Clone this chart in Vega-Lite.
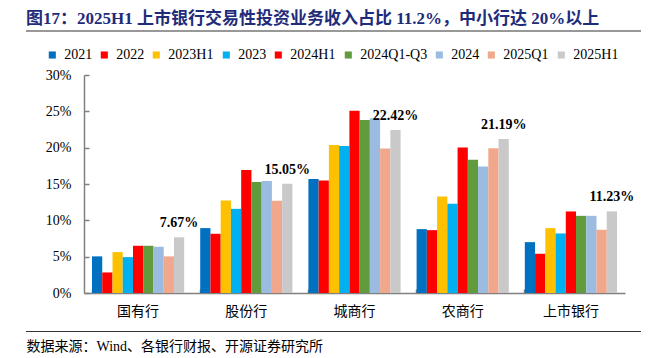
{
  "$schema": "https://vega.github.io/schema/vega-lite/v6.json",
  "autosize": {"type": "none"},
  "width": 615,
  "height": 302,
  "padding": {"left": 26, "top": 30, "right": 7, "bottom": 26},
  "background": "white",
  "config": {
    "font": "Liberation Serif",
    "view": {"stroke": null}
  },
  "title": {
    "text": "图17：2025H1 上市银行交易性投资业务收入占比 11.2%，中小行达 20%以上",
    "anchor": "start",
    "frame": "group",
    "font": "Liberation Serif, Noto Sans CJK SC",
    "fontSize": 17,
    "fontWeight": "bold",
    "color": "#1F2C7A",
    "baseline": "alphabetic",
    "offset": -11
  },
  "data": {
    "values": [
      {"bank": "国有行", "period": "2021", "value": 0.0504},
      {"bank": "国有行", "period": "2022", "value": 0.0283},
      {"bank": "国有行", "period": "2023H1", "value": 0.0563},
      {"bank": "国有行", "period": "2023", "value": 0.0494},
      {"bank": "国有行", "period": "2024H1", "value": 0.0650},
      {"bank": "国有行", "period": "2024Q1-Q3", "value": 0.0650},
      {"bank": "国有行", "period": "2024", "value": 0.0636},
      {"bank": "国有行", "period": "2025Q1", "value": 0.0504},
      {"bank": "国有行", "period": "2025H1", "value": 0.0767},
      {"bank": "股份行", "period": "2021", "value": 0.0893},
      {"bank": "股份行", "period": "2022", "value": 0.0815},
      {"bank": "股份行", "period": "2023H1", "value": 0.1273},
      {"bank": "股份行", "period": "2023", "value": 0.1158},
      {"bank": "股份行", "period": "2024H1", "value": 0.1694},
      {"bank": "股份行", "period": "2024Q1-Q3", "value": 0.1529},
      {"bank": "股份行", "period": "2024", "value": 0.1543},
      {"bank": "股份行", "period": "2025Q1", "value": 0.1268},
      {"bank": "股份行", "period": "2025H1", "value": 0.1505},
      {"bank": "城商行", "period": "2021", "value": 0.1570},
      {"bank": "城商行", "period": "2022", "value": 0.1548},
      {"bank": "城商行", "period": "2023H1", "value": 0.2038},
      {"bank": "城商行", "period": "2023", "value": 0.2024},
      {"bank": "城商行", "period": "2024H1", "value": 0.2509},
      {"bank": "城商行", "period": "2024Q1-Q3", "value": 0.2381},
      {"bank": "城商行", "period": "2024", "value": 0.2404},
      {"bank": "城商行", "period": "2025Q1", "value": 0.1987},
      {"bank": "城商行", "period": "2025H1", "value": 0.2242},
      {"bank": "农商行", "period": "2021", "value": 0.0879},
      {"bank": "农商行", "period": "2022", "value": 0.0865},
      {"bank": "农商行", "period": "2023H1", "value": 0.1328},
      {"bank": "农商行", "period": "2023", "value": 0.1227},
      {"bank": "农商行", "period": "2024H1", "value": 0.2001},
      {"bank": "农商行", "period": "2024Q1-Q3", "value": 0.1832},
      {"bank": "农商行", "period": "2024", "value": 0.1740},
      {"bank": "农商行", "period": "2025Q1", "value": 0.1992},
      {"bank": "农商行", "period": "2025H1", "value": 0.2119},
      {"bank": "上市银行", "period": "2021", "value": 0.0700},
      {"bank": "上市银行", "period": "2022", "value": 0.0540},
      {"bank": "上市银行", "period": "2023H1", "value": 0.0893},
      {"bank": "上市银行", "period": "2023", "value": 0.0819},
      {"bank": "上市银行", "period": "2024H1", "value": 0.1122},
      {"bank": "上市银行", "period": "2024Q1-Q3", "value": 0.1062},
      {"bank": "上市银行", "period": "2024", "value": 0.1062},
      {"bank": "上市银行", "period": "2025Q1", "value": 0.0870},
      {"bank": "上市银行", "period": "2025H1", "value": 0.1123}
    ]
  },
  "resolve": {"scale": {"x": "independent", "y": "independent"}},
  "layer": [
    {
      "data": {"values": [{"edge": "top", "pos": 0}, {"edge": "bottom", "pos": 1}]},
      "mark": {"type": "rule", "color": "#333333", "strokeWidth": 1.2, "clip": false},
      "encoding": {
        "y": {
          "field": "pos",
          "type": "quantitative",
          "scale": {"domain": [0, 1], "range": [1, 301.5], "nice": false, "zero": false},
          "axis": null
        },
        "x": {
          "datum": 0,
          "type": "quantitative",
          "scale": {"domain": [0, 1], "range": [0, 615], "nice": false, "zero": false},
          "axis": null
        },
        "x2": {"datum": 1}
      }
    },
    {
      "encoding": {
        "x": {
          "field": "bank",
          "type": "nominal",
          "sort": ["国有行", "股份行", "城商行", "农商行", "上市银行"],
          "scale": {"range": [58, 599], "paddingInner": 0.148, "paddingOuter": 0.074},
          "axis": {
            "orient": "bottom",
            "offset": -39,
            "title": "数据来源：Wind、各银行财报、开源证券研究所",
            "titleX": 0,
            "titleY": 46.5,
            "titleAlign": "left",
            "titleAnchor": "start",
            "titleBaseline": "top",
            "titleFont": "Liberation Serif, Noto Sans CJK SC",
            "titleFontSize": 14,
            "titleFontWeight": "normal",
            "titleColor": "#000000",
            "bandPosition": 0,
            "labelAngle": 0,
            "labelFont": "Noto Sans CJK SC",
            "labelFontSize": 14,
            "labelColor": "#000000",
            "labelPadding": 15.5,
            "tickSize": -4,
            "tickColor": "#808080",
            "tickWidth": 1.5,
            "domainColor": "#808080",
            "domainWidth": 1.5
          }
        },
        "y": {
          "field": "value",
          "type": "quantitative",
          "scale": {"domain": [0, 0.3], "range": [263, 45]},
          "axis": {
            "orient": "left",
            "offset": -58,
            "title": null,
            "values": [0, 0.05, 0.1, 0.15, 0.2, 0.25, 0.3],
            "format": ".0%",
            "grid": false,
            "labelFont": "Liberation Serif",
            "labelFontSize": 14,
            "labelColor": "#000000",
            "labelPadding": 18,
            "tickSize": -5,
            "tickColor": "#808080",
            "tickWidth": 1.5,
            "domainColor": "#808080",
            "domainWidth": 1.5
          }
        }
      },
      "layer": [
        {
          "mark": {"type": "bar"},
          "encoding": {
            "xOffset": {
              "field": "period",
              "type": "nominal",
              "scale": {"domain": ["2021", "2022", "2023H1", "2023", "2024H1", "2024Q1-Q3", "2024", "2025Q1", "2025H1"], "paddingInner": 0, "paddingOuter": 0}
            },
            "color": {
              "field": "period",
              "type": "nominal",
              "scale": {
                "domain": ["2021", "2022", "2023H1", "2023", "2024H1", "2024Q1-Q3", "2024", "2025Q1", "2025H1"],
                "range": ["#0070C0", "#FF0000", "#FFC000", "#00B0F0", "#FF0000", "#629B3E", "#9BBBE1", "#F0A78B", "#C9C9C9"]
              },
              "legend": {
                "title": null,
                "orient": "none",
                "direction": "horizontal",
                "columns": 9,
                "legendX": 19.3,
                "legendY": 18,
                "padding": 0,
                "symbolType": "square",
                "symbolSize": 50,
                "symbolStrokeWidth": 0,
                "labelFont": "Liberation Serif",
                "labelFontSize": 14,
                "labelColor": "#000000",
                "labelOffset": 5,
                "columnPadding": 5
              }
            }
          }
        },
        {
          "transform": [{"filter": "datum.period === '2025H1'"}],
          "mark": {"type": "text", "baseline": "alphabetic", "dy": -10, "font": "Liberation Serif", "fontSize": 14, "fontWeight": "bold", "color": "#000000"},
          "encoding": {
            "xOffset": {
              "field": "period",
              "type": "nominal",
              "scale": {"domain": ["2021", "2022", "2023H1", "2023", "2024H1", "2024Q1-Q3", "2024", "2025Q1", "2025H1"], "paddingInner": 0, "paddingOuter": 0}
            },
            "text": {"field": "value", "type": "quantitative", "format": ".2%"}
          }
        }
      ]
    }
  ]
}
